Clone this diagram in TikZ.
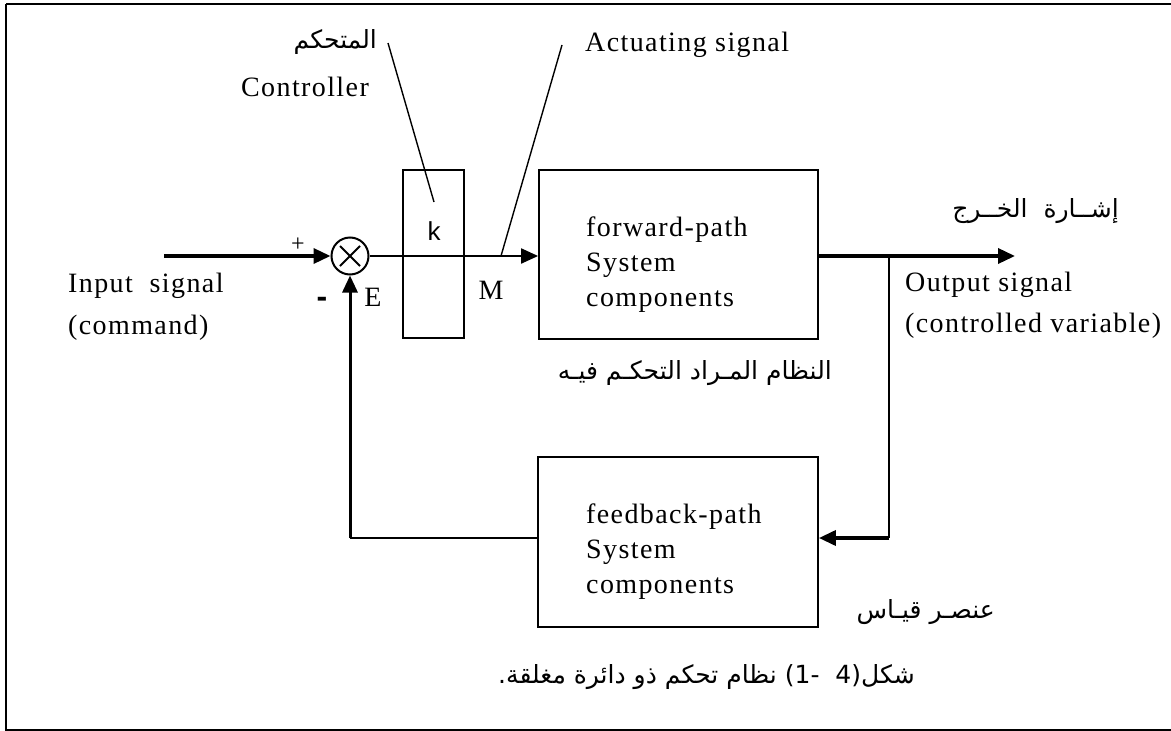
\documentclass[tikz,border=0pt]{standalone}
\usepackage{fontspec}
\usetikzlibrary{arrows.meta}
\TeXXeTstate=1
\newfontfamily\latfont{Liberation Serif}[LetterSpace=5]
\newfontfamily\latplain{Liberation Serif}
\newfontfamily\ksans{Liberation Sans}
\newfontfamily\arabicfont[Script=Arabic]{DejaVu Sans}
\tikzset{
  lbl/.style={inner sep=0pt, font=\latfont\fontsize{28}{35}\selectfont},
  arlbl/.style={inner sep=0pt, font=\arabicfont\fontsize{25}{28}\selectfont},
  blk/.style={draw, line width=1.8pt, inner sep=0pt},
  tip/.style={-{Triangle[length=17pt,width=15pt]}},
  heavy/.style={line width=3.5pt},
  medium/.style={line width=2pt},
  light/.style={line width=1.6pt}
}
\begin{document}
\begin{tikzpicture}[x=1pt,y=-1pt]
\useasboundingbox (0,0) rectangle (1171,731);
% frame
\draw[line width=2pt] (6,4) -- (1180,4);
\draw[line width=2pt] (6,4) -- (6,730) -- (1180,730);
% blocks
\node[circle, draw, line width=2pt, minimum size=37pt, inner sep=0pt] (sum) at (350,256) {};
\draw[line width=2pt] ([shift={(-10,-10)}]sum.center) -- ([shift={(10,10)}]sum.center);
\draw[line width=2pt] ([shift={(10,-10)}]sum.center) -- ([shift={(-10,10)}]sum.center);
\node[blk, minimum width=61pt, minimum height=168pt] (kb) at (433.5,254) {};
\node[blk, minimum width=279pt, minimum height=169pt] (fwd) at (678.5,254.5) {};
\node[blk, minimum width=280pt, minimum height=170pt] (fb) at (678,542) {};
% coordinates
\coordinate (in) at (164,256);
\coordinate (out) at (1015,256);
\coordinate (br) at (889,256);
\coordinate (brb) at (889,538);
\coordinate (fbl) at (350,538);
\coordinate (ctlA) at (388,43);
\coordinate (ctlB) at (434,202);
\coordinate (actA) at (562,45);
\coordinate (actB) at (501,256);
% connectors
\draw[heavy, tip] (in) -- (sum.west);
\draw[medium, tip] (sum.east) -- (sum.east -| fwd.west);
\draw[heavy, tip] (sum.east -| fwd.east) -- (out);
\draw[light] (br) -- (brb);
\draw[heavy, tip] (brb) -- (brb -| fb.east);
\draw[light] (brb -| fb.west) -- (fbl);
\draw[line width=3pt, tip] (fbl) -- (sum.south);
\draw[line width=1.4pt] (ctlA) -- (ctlB);
\draw[line width=1.4pt] (actA) -- (actB);
% labels
\node[inner sep=0pt, font=\latplain\fontsize{24}{26}\selectfont] (plus) at (298,245) {+};
\node[inner sep=0pt, font=\ksans\bfseries\fontsize{32}{34}\selectfont] (minus) at (322,302) {-};
\node[inner sep=0pt, font=\latplain\fontsize{28}{30}\selectfont] (E) at (373,297) {E};
\node[inner sep=0pt, font=\latplain\fontsize{28}{30}\selectfont] (M) at (491,290) {M};
\node[inner sep=0pt, font=\ksans\fontsize{26}{30}\selectfont] (k) at (434,231) {k};
\node[lbl, anchor=west] (inp) at (68,286) {Input\ \ signal};
\node[lbl, anchor=west] (cmd) at (68,328) {(command)};
\node[lbl] (ctl) at (305,87) {Controller};
\node[arlbl, anchor=east] (ctlar) at (377,42) {\beginR المتحكم\endR};
\node[lbl, anchor=west] (act) at (585,45) {Actuating signal};
\node[lbl, anchor=west, align=left] (fwdtxt) at (586,265) {forward-path\\System\\components};
\node[lbl, anchor=west, align=left] (fbtxt) at (586,552) {feedback-path\\System\\components};
\node[lbl, anchor=west] (outs) at (905,285) {Output signal};
\node[lbl, anchor=west] (cv) at (905,326) {(controlled variable)};
\node[arlbl, anchor=east] (outar) at (1119,211) {\beginR إشــارة\ \ الخــرج\endR};
\node[arlbl, anchor=east] (plant) at (832,373) {\beginR النظام المـراد التحكـم فيـه\endR};
\node[arlbl, anchor=east] (meas) at (995,612) {\beginR عنصـر قيـاس\endR};
\node[arlbl, anchor=east] (cap) at (915,677) {\beginR شكل(4\ \ -1) نظام تحكم ذو دائرة مغلقة.\endR};
\end{tikzpicture}
\end{document}
